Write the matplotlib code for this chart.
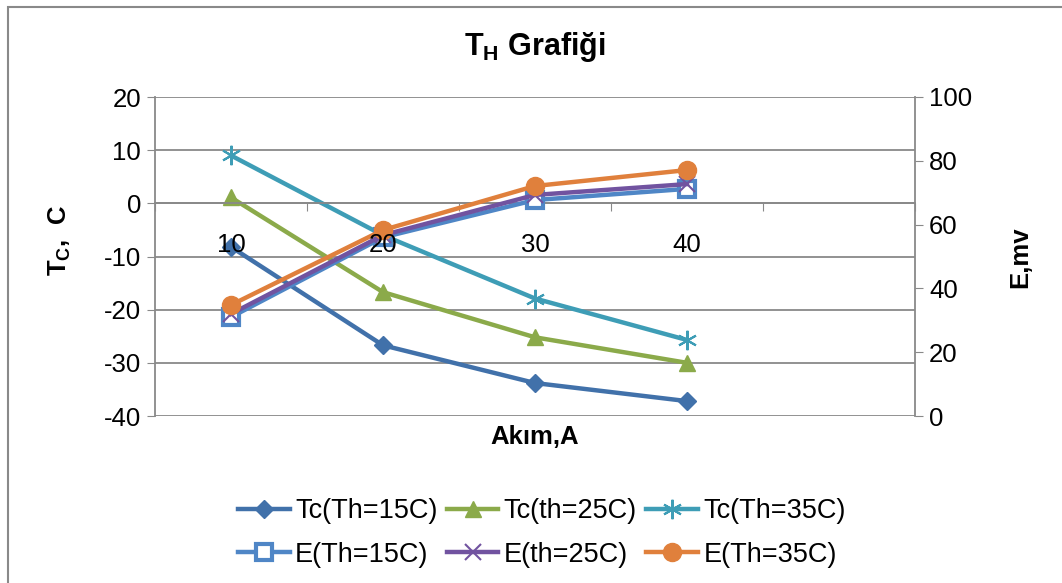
import matplotlib.pyplot as plt
from matplotlib.patches import Rectangle

currents = ['10', '20', '30', '40']
tc_th15 = [-8.2, -26.7, -33.8, -37.2]
tc_th25 = [1.1, -16.7, -25.2, -30.0]
tc_th35 = [9.0, -6.0, -17.9, -25.7]
e_th15 = [31.0, 56.0, 67.7, 71.2]
e_th25 = [32.0, 56.7, 69.3, 72.7]
e_th35 = [34.8, 58.3, 72.1, 77.1]

plt.rcParams['font.family'] = 'Liberation Sans'
plt.rcParams['mathtext.fontset'] = 'custom'
plt.rcParams['mathtext.rm'] = 'Liberation Sans'
plt.rcParams['mathtext.bf'] = 'Liberation Sans:bold'
plt.rcParams['axes.unicode_minus'] = False

W, H = 1062, 583
grey = '#898989'
fs = 18.5

fig = plt.figure(figsize=(W / 100, H / 100), dpi=100)
fig.patches.append(Rectangle((8 / W, -0.1), 1.2, 1 - 7 / H + 0.1,
                             transform=fig.transFigure, fill=False,
                             ec=grey, lw=1.5))

ax = fig.add_axes([155 / W, 1 - 416 / H, 760 / W, 319 / H])
ax2 = ax.twinx()

x = list(range(len(currents)))
lw = 3.2

h1, = ax.plot(x, tc_th15, color='#4171AA', lw=lw, marker='D', ms=9,
              label='Tc(Th=15C)')
h2, = ax.plot(x, tc_th25, color='#8BAA4A', lw=lw, marker='^', ms=12,
              label='Tc(th=25C)')
h3, = ax.plot(x, tc_th35, color='#3E9DB6', lw=lw, marker=(6, 2, 0), ms=14,
              mew=1.5, label='Tc(Th=35C)')
h4, = ax2.plot(x, e_th15, color='#4F86C6', lw=lw, marker='s', ms=12,
               mfc='white', mew=3, label='E(Th=15C)')
h5, = ax2.plot(x, e_th25, color='#7153A0', lw=lw, marker='x', ms=11,
               mew=1.5, label='E(th=25C)')
h6, = ax2.plot(x, e_th35, color='#E0803C', lw=lw, marker='o', ms=13,
               label='E(Th=35C)')

# left axis
ax.set_xlim(-0.5, 4.5)
ax.set_ylim(-40, 20)
ax.set_yticks(range(-40, 21, 10))
ax.yaxis.grid(True, color=grey, lw=1.3)
ax.set_axisbelow(True)
ax.tick_params(axis='y', direction='out', length=6, color=grey,
               labelsize=fs, pad=4)
for s in ('top', 'right'):
    ax.spines[s].set_visible(False)
ax.spines['left'].set_color(grey)
ax.spines['left'].set_linewidth(1.3)

# category axis sits at Tc = 0
ax.spines['bottom'].set_position(('data', 0))
ax.spines['bottom'].set_color(grey)
ax.spines['bottom'].set_linewidth(1.3)
ax.set_xticks([i + 0.5 for i in range(-1, 5)])
ax.tick_params(axis='x', direction='out', length=6, color=grey,
               labelbottom=False)

# right axis
ax2.set_ylim(0, 100)
ax2.set_yticks(range(0, 101, 20))
ax2.tick_params(axis='y', direction='out', length=6, color=grey,
                labelsize=fs, pad=4)
for s in ('top', 'left', 'bottom'):
    ax2.spines[s].set_visible(False)
ax2.spines['right'].set_color(grey)
ax2.spines['right'].set_linewidth(1.3)

for i, lbl in enumerate(currents):
    ax2.annotate(lbl, xy=(i, 0), xycoords=ax.transData,
                 xytext=(0, -42), textcoords='offset pixels',
                 ha='center', va='center', fontsize=fs, zorder=10)

fig.text(535 / W, 1 - 47 / H, r'$\mathbf{T_H}$ Grafiği', ha='center',
         va='center', fontsize=22, fontweight='bold')
fig.text(60 / W, 1 - 241 / H, r'$\mathbf{T_C}$,  C', ha='center',
         va='center', rotation=90, fontsize=fs, fontweight='bold')
fig.text(1020 / W, 1 - 257 / H, 'E,mv', ha='center', va='center',
         rotation=90, fontsize=fs, fontweight='bold')
fig.text(535 / W, 1 - 437 / H, 'Akım,A', ha='center', va='center',
         fontsize=fs, fontweight='bold')

fig.legend([h1, h4, h2, h5, h3, h6],
           [h.get_label() for h in (h1, h4, h2, h5, h3, h6)],
           ncol=3, loc='center', bbox_to_anchor=(542 / W, 1 - 533 / H),
           frameon=False, fontsize=19.5, handlelength=1.9,
           handletextpad=0.2, columnspacing=0.35, labelspacing=0.65,
           borderaxespad=0)

fig.savefig('out.png', dpi=100)
